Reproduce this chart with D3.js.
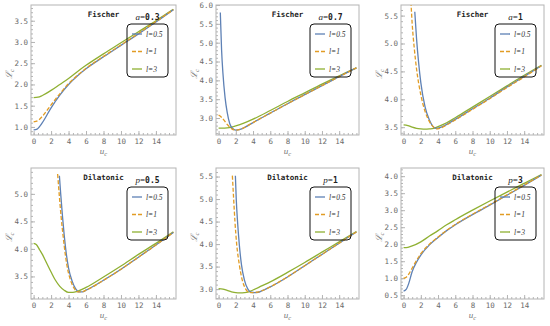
<!DOCTYPE html>
<html>
<head>
<script src="https://d3js.org/d3.v7.min.js"></script>
<style>
  body { margin: 0; background: #fff; }
  .tick text { font-family: "DejaVu Sans Mono", monospace; font-size: 7.5px; fill: #6a6a6a; }
</style>
</head>
<body>
<svg id="chart" width="550" height="326"></svg>
<script>
// ---- data: [u_c, L_c] ----
var fischer03_l05 = [[0,0.93],[0.4,0.95],[1,1.1],[2,1.45],[3,1.75],[4,2.0],[5,2.2],[6,2.37],[8,2.65],[10,2.92],[12,3.19],[14,3.47],[16,3.76]];
var fischer03_l1  = [[0,1.12],[0.5,1.15],[1,1.25],[2,1.52],[3,1.78],[4,2.02],[5,2.21],[6,2.38],[8,2.66],[10,2.93],[12,3.2],[14,3.48],[16,3.76]];
var fischer03_l3  = [[0,1.69],[0.5,1.7],[1,1.74],[2,1.86],[3,2.0],[4,2.14],[5,2.3],[6,2.45],[8,2.72],[10,2.98],[12,3.24],[14,3.5],[16,3.77]];

var fischer07_l05 = [[0.2,5.8],[0.35,4.8],[0.5,4.2],[0.75,3.55],[1,3.15],[1.3,2.85],[1.6,2.73],[2,2.68],[2.5,2.7],[3,2.75],[4,2.88],[6,3.13],[8,3.38],[10,3.62],[12,3.86],[14,4.1],[16,4.33]];
var fischer07_l1  = [[0,3.08],[0.3,3.03],[0.6,2.95],[1,2.83],[1.5,2.72],[2,2.68],[2.5,2.7],[3,2.75],[4,2.88],[6,3.13],[8,3.38],[10,3.62],[12,3.86],[14,4.1],[16,4.33]];
var fischer07_l3  = [[0,2.73],[0.5,2.73],[1,2.74],[1.5,2.76],[2,2.79],[3,2.87],[4,2.97],[6,3.2],[8,3.44],[10,3.67],[12,3.9],[14,4.12],[16,4.33]];

var fischer1_l05 = [[1.3,5.57],[1.5,5.1],[1.75,4.65],[2,4.3],[2.5,3.86],[3,3.63],[3.5,3.5],[3.8,3.48],[4.2,3.49],[5,3.55],[6,3.64],[8,3.83],[10,4.02],[12,4.22],[14,4.41],[16,4.6]];
var fischer1_l1  = [[0.85,5.75],[1,5.35],[1.25,4.9],[1.5,4.55],[2,4.08],[2.5,3.78],[3,3.6],[3.5,3.5],[3.8,3.47],[4.2,3.48],[5,3.54],[6,3.63],[8,3.82],[10,4.01],[12,4.21],[14,4.4],[16,4.6]];
var fischer1_l3  = [[0,3.54],[0.5,3.53],[1,3.5],[1.5,3.48],[2,3.47],[2.5,3.465],[3,3.47],[3.5,3.48],[4,3.51],[5,3.58],[6,3.67],[8,3.86],[10,4.05],[12,4.24],[14,4.43],[16,4.61]];

var dil05_l05 = [[2.95,5.33],[3.1,5.0],[3.3,4.6],[3.5,4.25],[3.75,3.9],[4,3.65],[4.4,3.42],[4.8,3.28],[5.2,3.22],[5.6,3.22],[6,3.25],[8,3.43],[10,3.63],[12,3.85],[14,4.07],[16,4.3]];
var dil05_l1  = [[2.75,5.36],[2.95,4.95],[3.15,4.58],[3.4,4.2],[3.65,3.87],[3.9,3.63],[4.3,3.4],[4.7,3.27],[5.1,3.22],[5.5,3.22],[6,3.25],[8,3.43],[10,3.63],[12,3.85],[14,4.07],[16,4.3]];
var dil05_l3  = [[0,4.1],[0.3,4.08],[0.7,3.98],[1,3.9],[1.5,3.74],[2,3.58],[2.5,3.43],[3,3.32],[3.5,3.25],[4,3.21],[4.5,3.21],[5,3.23],[6,3.3],[8,3.49],[10,3.69],[12,3.9],[14,4.1],[16,4.31]];

var dil1_l05 = [[1.95,5.52],[2.05,5.0],[2.2,4.5],[2.4,4.0],[2.65,3.55],[3,3.2],[3.4,3.0],[3.8,2.93],[4.2,2.92],[4.6,2.93],[5,2.96],[6,3.05],[8,3.27],[10,3.52],[12,3.77],[14,4.02],[16,4.27]];
var dil1_l1  = [[1.6,5.52],[1.75,5.0],[1.9,4.5],[2.1,4.0],[2.4,3.55],[2.75,3.2],[3.15,3.0],[3.55,2.93],[3.95,2.92],[4.4,2.93],[5,2.96],[6,3.05],[8,3.27],[10,3.52],[12,3.77],[14,4.02],[16,4.27]];
var dil1_l3  = [[0,3.01],[0.5,3.0],[1,2.97],[1.5,2.94],[2,2.92],[2.5,2.915],[3,2.92],[3.5,2.94],[4,2.98],[5,3.07],[6,3.16],[8,3.37],[10,3.59],[12,3.82],[14,4.05],[16,4.28]];

var dil3_l05 = [[0,0.62],[0.3,0.67],[0.6,0.85],[1,1.2],[1.5,1.47],[2,1.68],[3,1.98],[4,2.2],[5,2.4],[6,2.57],[8,2.87],[10,3.15],[12,3.44],[14,3.73],[16,4.03]];
var dil3_l1  = [[0,1.0],[0.3,1.03],[0.6,1.12],[1,1.3],[1.5,1.52],[2,1.72],[3,2.0],[4,2.21],[5,2.41],[6,2.58],[8,2.88],[10,3.16],[12,3.45],[14,3.74],[16,4.03]];
var dil3_l3  = [[0,1.9],[0.5,1.91],[1,1.95],[2,2.07],[3,2.24],[4,2.4],[5,2.57],[6,2.72],[8,3.0],[10,3.27],[12,3.53],[14,3.79],[16,4.05]];

var legendLabels = ["l=0.5", "l=1", "l=3"];
var titles = ["Fischer", "Fischer", "Fischer", "Dilatonic", "Dilatonic", "Dilatonic"];
var paramNames = ["a", "a", "a", "p", "p", "p"];
var paramValues = ["0.3", "0.7", "1", "0.5", "1", "3"];
var yDomains = [[0.81, 3.87], [2.55, 6.0], [3.36, 5.69], [3.09, 5.47], [2.78, 5.69], [0.39, 4.24]];
var xTicks = [0, 2, 4, 6, 8, 10, 12, 14];

var curves = [
  [fischer03_l05, fischer03_l1, fischer03_l3],
  [fischer07_l05, fischer07_l1, fischer07_l3],
  [fischer1_l05, fischer1_l1, fischer1_l3],
  [dil05_l05, dil05_l1, dil05_l3],
  [dil1_l05, dil1_l1, dil1_l3],
  [dil3_l05, dil3_l1, dil3_l3]
];

var colors = ["#5e81b5", "#e19c24", "#8fb032"];
var dashes = [null, "4,2", null];

// panel frames in pixels
var cols = [[31, 176], [216, 359], [401, 544]];
var rows = [[5, 135], [168, 299]];

var svg = d3.select("#chart");

curves.forEach(function(series, i) {
  var c = cols[i % 3], r = rows[Math.floor(i / 3)];
  var w = c[1] - c[0], h = r[1] - r[0];

  var x = d3.scaleLinear().domain([-0.3, 16.3]).range([0, w]);
  var y = d3.scaleLinear().domain(yDomains[i]).range([h, 0]);

  var g = svg.append("g").attr("transform", "translate(" + c[0] + "," + r[0] + ")");

  svg.append("clipPath").attr("id", "clip" + i)
    .append("rect").attr("width", w).attr("height", h);

  // minor ticks
  var yMinor = d3.range(Math.ceil(yDomains[i][0] * 10) / 10, yDomains[i][1], 0.1);
  g.append("g").attr("class", "minor")
    .call(d3.axisLeft(y).tickValues(yMinor).tickSizeInner(-2).tickSizeOuter(0).tickFormat(""));
  g.append("g").attr("class", "minor").attr("transform", "translate(0," + h + ")")
    .call(d3.axisBottom(x).tickValues(d3.range(0, 16.1, 0.5)).tickSizeInner(-2).tickSizeOuter(0).tickFormat(""));

  // major ticks
  var yMajor = d3.range(Math.ceil(yDomains[i][0] * 2) / 2, yDomains[i][1] + 0.001, 0.5);
  g.append("g")
    .call(d3.axisLeft(y).tickValues(yMajor).tickSizeInner(-4).tickSizeOuter(0).tickPadding(3).tickFormat(d3.format(".1f")));
  g.append("g").attr("transform", "translate(0," + h + ")")
    .call(d3.axisBottom(x).tickValues(xTicks).tickSizeInner(-4).tickSizeOuter(0).tickPadding(4).tickFormat(d3.format("d")));

  g.selectAll(".domain").remove();
  g.selectAll(".tick line").attr("stroke", "#b4b4b4");

  // frame
  g.append("rect").attr("width", w).attr("height", h)
    .attr("fill", "none").attr("stroke", "#b4b4b4").attr("stroke-width", 1);

  // curves
  var line = d3.line()
    .x(function(d) { return x(d[0]); })
    .y(function(d) { return y(d[1]); })
    .curve(d3.curveMonotoneX);

  var cg = g.append("g").attr("clip-path", "url(#clip" + i + ")");
  [2, 0, 1].forEach(function(k) {
    cg.append("path")
      .attr("d", line(series[k]))
      .attr("fill", "none")
      .attr("stroke", colors[k])
      .attr("stroke-width", 1.3)
      .attr("stroke-dasharray", dashes[k]);
  });

  // title
  g.append("text")
    .attr("x", w / 2).attr("y", 12)
    .attr("text-anchor", "middle")
    .style("font-family", "DejaVu Sans Mono").style("font-weight", "bold").style("font-size", "7.5px")
    .attr("fill", "#222")
    .text(titles[i]);

  // legend box
  var bx = w - 49, by = 19, bw = 41, bh = 53;
  var pl = g.append("text")
    .attr("x", bx + bw / 2).attr("y", by - 4)
    .attr("text-anchor", "middle")
    .attr("fill", "#222");
  pl.append("tspan").style("font-family", "Liberation Serif").style("font-style", "italic").style("font-size", "9px").text(paramNames[i]);
  pl.append("tspan").style("font-family", "Liberation Serif").style("font-size", "9px").text("=");
  pl.append("tspan").style("font-family", "DejaVu Sans Mono").style("font-weight", "bold").style("font-size", "8px").text(paramValues[i]);

  g.append("rect")
    .attr("x", bx).attr("y", by).attr("width", bw).attr("height", bh)
    .attr("rx", 4).attr("fill", "none").attr("stroke", "#111").attr("stroke-width", 1);

  legendLabels.forEach(function(lab, k) {
    var ly = by + 10 + k * 17.5;
    g.append("line")
      .attr("x1", bx + 5).attr("x2", bx + 15).attr("y1", ly).attr("y2", ly)
      .attr("stroke", colors[k]).attr("stroke-width", 1.3)
      .attr("stroke-dasharray", dashes[k]);
    g.append("text")
      .attr("x", bx + 19).attr("y", ly + 2.5)
      .style("font-family", "Liberation Serif").style("font-style", "italic").style("font-size", "7.5px")
      .attr("fill", "#333")
      .text(lab);
  });

  // axis labels
  var xl = g.append("text")
    .attr("x", w / 2).attr("y", h + 19)
    .attr("text-anchor", "middle")
    .style("font-family", "Liberation Serif").style("font-style", "italic").style("font-size", "9px")
    .attr("fill", "#777");
  xl.append("tspan").text("u");
  xl.append("tspan").attr("dy", 2).style("font-size", "6.5px").text("c");

  var yl = g.append("text")
    .attr("transform", "translate(" + (-19) + "," + (h / 2 + 4) + ") rotate(-90)")
    .attr("text-anchor", "middle")
    .style("font-family", "Liberation Serif").style("font-style", "italic").style("font-size", "9px")
    .attr("fill", "#777");
  yl.append("tspan").text("\u2112");
  yl.append("tspan").attr("dy", 2).style("font-size", "6.5px").text("c");
});
</script>
</body>
</html>
